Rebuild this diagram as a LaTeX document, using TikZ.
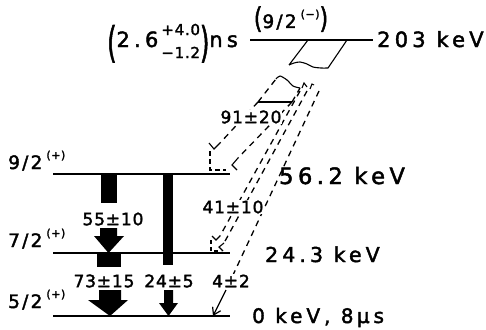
\documentclass[tikz,border=0pt]{standalone}
\usepackage{graphicx}
\usepackage{fontspec}
\setmainfont{DejaVu Sans}[LetterSpace=5, FakeBold=2]
\newfontfamily\spinfont{DejaVu Sans}[LetterSpace=12, FakeBold=2]
\newfontfamily\enfont{DejaVu Sans}[LetterSpace=20, FakeBold=2]
\usetikzlibrary{arrows.meta}

\tikzset{
  level/.style={line width=1.3pt},
  gdash/.style={line width=1.3pt, dash pattern=on 6pt off 5pt},
  tear/.style={line width=1.1pt},
  gbar/.style={fill=black},
  inten/.style={fill=white, inner sep=1pt, font=\fontsize{17}{18}\selectfont},
  energy/.style={anchor=base west, inner sep=0pt, font=\enfont\fontsize{21}{23}\selectfont},
  spin/.style={anchor=base west, inner sep=0pt, font=\spinfont\fontsize{18.5}{20}\selectfont},
}
\newcommand\spinpar[1]{\hspace{4pt}\raisebox{10pt}{\rmfamily\fontsize{11}{12}\selectfont(#1)}}

\begin{document}
\begin{tikzpicture}[x=1pt,y=-1pt]
\useasboundingbox (0,0) rectangle (486,329);

% levels
\coordinate (t1) at (250,40);  \coordinate (t2) at (373,40);
\coordinate (n1) at (53,174);  \coordinate (n2) at (230,174);
\coordinate (s1) at (53,253);  \coordinate (s2) at (230,253);
\coordinate (f1) at (53,316);  \coordinate (f2) at (230,316);
\draw[level] (t1) -- (t2);
\draw[level] (n1) -- (n2);
\draw[level] (s1) -- (s2);
\draw[level] (f1) -- (f2);

% solid gamma intensities
\fill[gbar] (101,174) rectangle (117,203);
\fill[gbar] (100,228) -- (117,228) -- (117,236) -- (124,236) -- (108.5,253)
  -- (94,236) -- (100,236) -- cycle;
\fill[gbar] (97,253) rectangle (121,267);
\fill[gbar] (99,290) -- (121,290) -- (121,300) -- (128,300) -- (110,316)
  -- (88,300) -- (99,300) -- cycle;
\fill[gbar] (163,174) rectangle (173,265);
\fill[gbar] (164,290) -- (173,290) -- (173,303) -- (178,303) -- (168.5,316)
  -- (159,303) -- (164,303) -- cycle;

% torn band from 203 keV
\coordinate (ba) at (308,40); \coordinate (bb) at (347,40);
\coordinate (bc) at (289,65); \coordinate (bd) at (328,68);
\draw[tear] (ba) -- (bc)
  plot[smooth] coordinates {(289,65) (294,63) (300,62) (307,64) (313,67) (321,68) (328,68)}
  (bd) -- (bb);

% dashed continuation
\coordinate (ta) at (258,102); \coordinate (tb) at (292,102);
\coordinate (tc) at (276,79);  \coordinate (td) at (300,88);
\draw[gdash] (ta) -- (tc);
\draw[tear] plot[smooth] coordinates {(276,79) (280,76) (287,80) (293,86) (300,88)};
\draw[tear] (ta) -- (tb);
\draw[gdash] (tb) -- (td);
\draw[tear] (302,88) -- (304,83) -- (307,87);
\draw[tear] (310,89) -- (312,84) -- (314,85);

% 91 branch
\coordinate (e91l) at (220,143); \coordinate (e91r) at (238,158);
\draw[gdash] (ta) -- (e91l);
\draw[gdash] (tb) -- (e91r);
\draw[tear] (e91l) -- (214,149) -- (209,143);
\draw[gdash, dash pattern=on 5pt off 3pt] (210,151) -- (210,170) -- (226,170);
\draw[tear] (e91r) -- (232,165) -- (237,170);

% 41 branch
\coordinate (g41l) at (300,91); \coordinate (g41r) at (307,91);
\coordinate (e41l) at (220,236); \coordinate (e41r) at (224,243);
\draw[gdash] (g41l) -- (e41l);
\draw[gdash] (g41r) -- (e41r);
\draw[tear] (e41l) -- (216,240) -- (212,236);
\draw[gdash, dash pattern=on 4pt off 3pt] (211,240) -- (211,251) -- (221,251);
\draw[tear] (e41r) -- (219,247) -- (223,251);

% 4 branch
\coordinate (g4) at (319,91); \coordinate (m4) at (226,290); \coordinate (k4) at (213,316);
\draw[gdash] (g4) -- (m4);
\draw[line width=1.2pt, -{Straight Barb[length=7pt,width=9pt]}] (m4) -- (k4);

% intensities
\node[inten] (i91) at (251,117) {91±20};
\node[inten] (i41) at (233,207) {41±10};
\node[inten] (i55) at (113,219) {55±10};
\node[inten] (i73) at (104,281) {73±15};
\node[inten] (i24) at (169,281) {24±5};
\node[inten] (i4)  at (231,281) {4±2};

% spins and energies
\node[spin] (j9) at (8,169) {9/2\spinpar{+}};
\node[spin] (j7) at (8,247) {7/2\spinpar{+}};
\node[spin] (j5) at (8,308) {5/2\spinpar{+}};
\node[spin, anchor=base] (j203) at (291,28)
  {\scalebox{1}[1.3]{\rmfamily\fontsize{22}{22}\selectfont(}9/2\spinpar{−}\scalebox{1}[1.3]{\rmfamily\fontsize{22}{22}\selectfont)}};
\node[energy] (e203) at (377,47) {203 keV};
\node[energy, font=\enfont\fontsize{22.5}{24}\selectfont] (e56) at (279,184) {56.2 keV};
\node[energy, font=\enfont\fontsize{20.5}{22}\selectfont] (e24) at (265,262) {24.3 keV};
\node[energy, font=\enfont\fontsize{20}{22}\selectfont] (e0) at (252,323) {0 keV, 8\,μs};
\node[anchor=base west, inner sep=0pt, font=\enfont\fontsize{21}{23}\selectfont] (tau) at (107,47)
  {\raisebox{-10pt}{\scalebox{1}[1.75]{\rmfamily\fontsize{24}{24}\selectfont(}}2.6\hspace{3pt}\rlap{\raisebox{12pt}{\rmfamily\fontsize{15}{16}\selectfont+4.0}}\raisebox{-11pt}{\rmfamily\fontsize{15}{16}\selectfont−1.2}\raisebox{-10pt}{\scalebox{1}[1.75]{\rmfamily\fontsize{24}{24}\selectfont)}}ns};
\end{tikzpicture}
\end{document}
